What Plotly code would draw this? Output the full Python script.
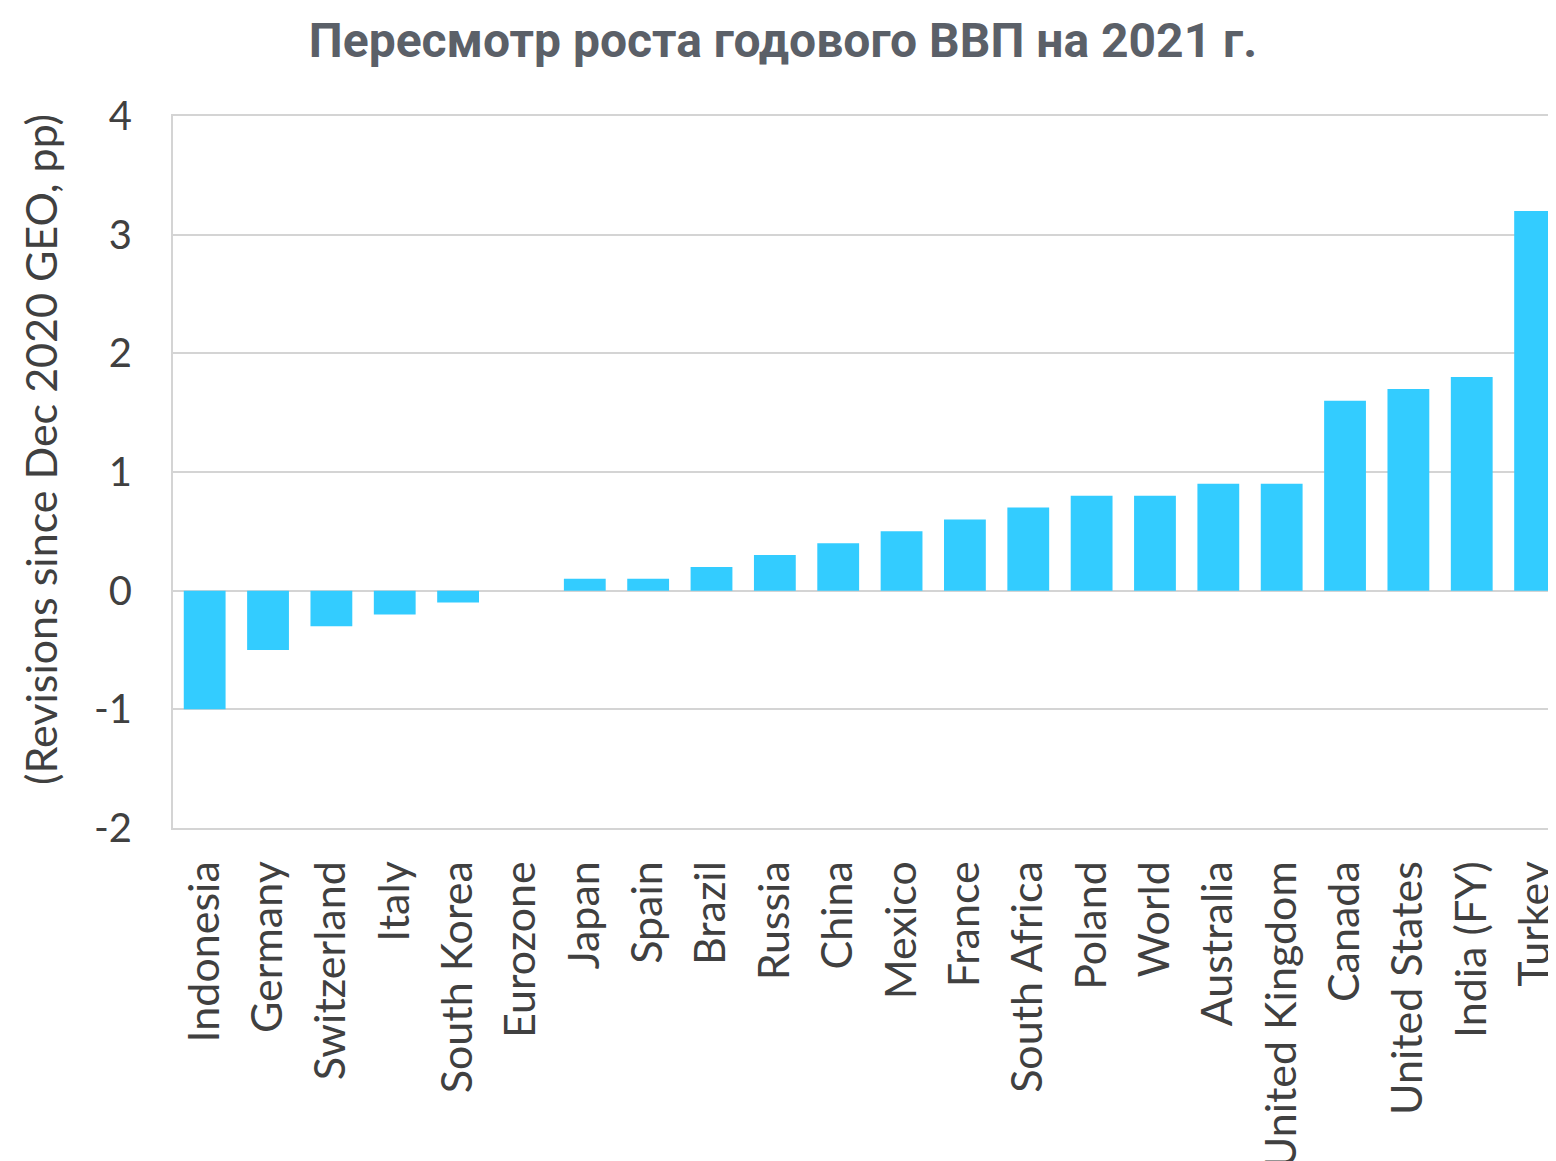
import plotly.graph_objects as go

countries = [
    "Indonesia", "Germany", "Switzerland", "Italy", "South Korea", "Eurozone",
    "Japan", "Spain", "Brazil", "Russia", "China", "Mexico", "France",
    "South Africa", "Poland", "World", "Australia", "United Kingdom",
    "Canada", "United States", "India (FY)", "Turkey",
]
revisions = [
    -1.0, -0.5, -0.3, -0.2, -0.1, 0.0,
    0.1, 0.1, 0.2, 0.3, 0.4, 0.5, 0.6,
    0.7, 0.8, 0.8, 0.9, 0.9,
    1.6, 1.7, 1.8, 3.2,
]
y_ticks = [-2, -1, 0, 1, 2, 3, 4]
y_ticktext = ["-2", "-1", "0", "1", "2", "3", "4"]

title_text = "Пересмотр роста годового ВВП на 2021 г."
y_title = "(Revisions since Dec 2020 GEO, pp)"

grid = "#d4d4d4"

# the page body has an 8px margin, so the figure is sized to end at the window edge
W, H = 1548, 1153
L, T, B = 165, 108, 333

fig = go.Figure()

fig.add_trace(go.Bar(
    x=list(range(len(countries))),
    y=revisions,
    marker=dict(color="#33CCFF", line=dict(width=0)),
    width=0.66,
))

fig.update_layout(
    width=W,
    height=H,
    margin=dict(l=L, r=0, t=T, b=B),
    plot_bgcolor="white",
    paper_bgcolor="white",
    font=dict(family="Lato", color="#404040", size=38),
    showlegend=False,
    title=dict(
        text=title_text,
        x=775 / W, xref="container", xanchor="center",
        y=1 - 32 / H, yref="container", yanchor="middle",
        font=dict(family="Roboto", size=48, color="#5b6068", weight="bold"),
    ),
)

# y axis title as a rotated annotation, sitting a bit above the plot centre like the reference
fig.add_annotation(
    text=y_title,
    textangle=-90,
    xref="paper", yref="paper",
    x=(32 - L) / (W - L), y=(H - B - 442) / (H - T - B),
    xanchor="center", yanchor="middle",
    showarrow=False,
    font=dict(size=43, color="#404040"),
)

fig.update_xaxes(
    tickmode="array",
    tickvals=list(range(len(countries))),
    ticktext=countries,
    tickangle=-90,
    range=[-0.5, 21.33],
    automargin=False,
    ticklabeloverflow="allow",
    showgrid=False,
    showline=True,
    linecolor=grid,
    linewidth=2,
    mirror=True,
    zeroline=False,
    ticks="outside",
    ticklen=14,
    tickcolor="rgba(0,0,0,0)",
    tickfont=dict(size=43),
)

fig.update_yaxes(
    range=[-2, 4],
    tickmode="array",
    tickvals=y_ticks,
    ticktext=y_ticktext,
    automargin=False,
    showgrid=True,
    gridcolor=grid,
    gridwidth=2,
    zeroline=True,
    zerolinecolor=grid,
    zerolinewidth=2,
    showline=True,
    linecolor=grid,
    linewidth=2,
    ticks="outside",
    ticklen=31,
    tickcolor="rgba(0,0,0,0)",
    tickfont=dict(size=40),
)

fig.write_html("out.html")
